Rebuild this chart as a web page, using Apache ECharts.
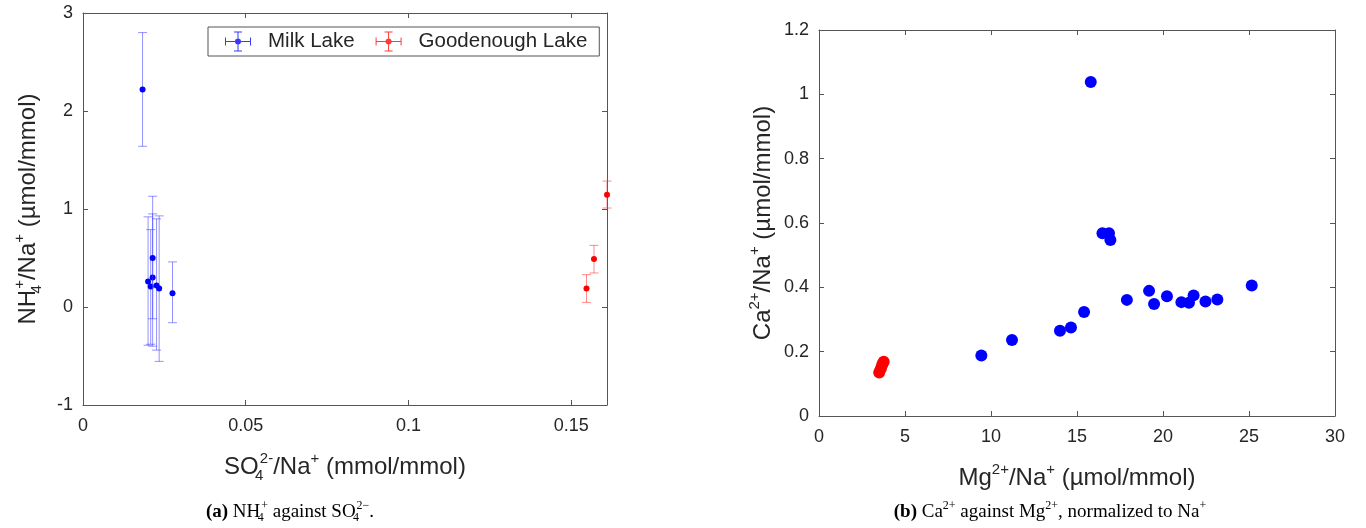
<!DOCTYPE html>
<html>
<head>
<meta charset="utf-8">
<script src="https://cdn.jsdelivr.net/npm/echarts@6/dist/echarts.min.js"></script>
<style>html,body{margin:0;padding:0;background:#fff}#c{width:1366px;height:528px}</style>
</head>
<body>
<div id="c"></div>
<script>
// ---- Panel (a): NH4+/Na+ vs SO4 2-/Na+ ----
const milkX = [0.0183, 0.0200, 0.0208, 0.0214, 0.0214, 0.0226, 0.0234, 0.0275];
const milkY = [2.22, 0.26, 0.21, 0.30, 0.50, 0.22, 0.19, 0.14];
const milkLow = [1.64, -0.39, -0.38, -0.40, -0.12, -0.44, -0.555, -0.16];
const milkHigh = [2.80, 0.92, 0.79, 0.95, 1.13, 0.90, 0.93, 0.46];

const goodX = [0.1547, 0.1570, 0.1610];
const goodY = [0.19, 0.49, 1.146];
const goodLow = [0.047, 0.347, 1.01];
const goodHigh = [0.33, 0.629, 1.285];

// ---- Panel (b): Ca2+/Na+ vs Mg2+/Na+ ----
const mgMilk = [9.44, 11.22, 14.01, 14.65, 15.41, 15.8, 16.48, 16.86, 16.94, 17.9, 19.19, 19.48, 20.23, 21.07, 21.51, 21.78, 22.47, 23.16, 25.16];
const caMilk = [0.188, 0.236, 0.265, 0.275, 0.323, 1.038, 0.568, 0.568, 0.547, 0.361, 0.389, 0.348, 0.372, 0.354, 0.352, 0.375, 0.356, 0.362, 0.406];
const mgGood = [3.50, 3.60, 3.68, 3.76];
const caGood = [0.135, 0.148, 0.160, 0.169];

const legendNames = ['Milk Lake', 'Goodenough Lake'];

const SANS = 'Liberation Sans, Arial, Helvetica, sans-serif';
const SERIF = 'Liberation Serif, Times New Roman, serif';
const TXT = '#262626';
const AX = '#555';
const TICKFS = 18;

function zip(a, b, c, d) { return a.map((v, i) => d ? [v, b[i], c[i], d[i]] : [v, b[i]]); }

function errRender(barColor, dotColor) {
  return function (params, api) {
    const x = api.value(0), y = api.value(1), lo = api.value(2), hi = api.value(3);
    const pC = api.coord([x, y]), pH = api.coord([x, hi]), pL = api.coord([x, lo]);
    const w = 4.5;
    const ls = { stroke: barColor, lineWidth: 1 };
    return {
      type: 'group',
      children: [
        { type: 'line', shape: { x1: pC[0], y1: pH[1], x2: pC[0], y2: pL[1] }, style: ls },
        { type: 'line', shape: { x1: pC[0] - w, y1: pH[1], x2: pC[0] + w, y2: pH[1] }, style: ls },
        { type: 'line', shape: { x1: pC[0] - w, y1: pL[1], x2: pC[0] + w, y2: pL[1] }, style: ls },
        { type: 'circle', shape: { cx: pC[0], cy: pC[1], r: 3 }, style: { fill: dotColor } }
      ]
    };
  };
}

const rich = {
  m: { fontSize: 24, fontFamily: SANS, color: TXT, lineHeight: 32 },
  sup: { fontSize: 15, fontFamily: SANS, color: TXT, verticalAlign: 'top', lineHeight: 16 },
  sub: { fontSize: 15, fontFamily: SANS, color: TXT, verticalAlign: 'bottom', lineHeight: 16 },
  subz: { fontSize: 15, fontFamily: SANS, color: TXT, verticalAlign: 'bottom', lineHeight: 16, width: 1 }
};
const capRich = {
  b: { fontSize: 19, fontFamily: SERIF, fontWeight: 'bold', color: '#000', lineHeight: 24 },
  m: { fontSize: 19, fontFamily: SERIF, color: '#000', lineHeight: 24 },
  sup: { fontSize: 12, fontFamily: SERIF, color: '#000', verticalAlign: 'top', lineHeight: 12 },
  subz: { fontSize: 12, fontFamily: SERIF, color: '#000', verticalAlign: 'bottom', lineHeight: 12, width: 1 }
};

const icon = 'path://M0,9.5h26v1H0z M0,6h1v8H0z M25,6h1v8H25z M12.5,0h1v20h-1z M9,0h8v1H9z M9,19h8v1H9z M10,10a3,3 0 1,1 6,0a3,3 0 1,1 -6,0z';

function axisBase(extra) {
  return Object.assign({
    type: 'value',
    axisLine: { show: true, onZero: false, lineStyle: { color: AX, width: 1 } },
    axisTick: { show: true, inside: true, length: 5, lineStyle: { color: AX } },
    splitLine: { show: false },
    axisLabel: { color: TXT, fontSize: TICKFS, fontFamily: SANS }
  }, extra);
}
function mirror(extra) {
  return axisBase(Object.assign({ axisLabel: { show: false }, name: '' }, extra));
}

const option = {
  animation: false,
  backgroundColor: '#fff',
  grid: [
    { left: 83, top: 13, right: 1366 - 607, bottom: 528 - 405, show: false },
    { left: 819, top: 30, right: 1366 - 1335, bottom: 528 - 416, show: false }
  ],
  legend: {
    data: [{ name: legendNames[0], icon: icon }, { name: legendNames[1], icon: icon }],
    left: 208, top: 27,
    itemWidth: 26, itemHeight: 20, itemGap: 21,
    padding: [4, 12, 4, 17],
    borderColor: '#555', borderWidth: 1, backgroundColor: '#fff',
    textStyle: { fontSize: 20.5, fontFamily: SANS, color: TXT, padding: [0, 0, 0, 12] }
  },
  xAxis: [
    axisBase({ gridIndex: 0, min: 0, max: 0.161, interval: 0.05,
      axisLabel: { color: TXT, fontSize: TICKFS, fontFamily: SANS, showMaxLabel: false, margin: 12 },
      name: '{m|SO}{subz|4}{sup|2-}{m|/Na}{sup|+}{m| (mmol/mmol)}', nameLocation: 'middle', nameGap: 46,
      nameTextStyle: { rich: rich } }),
    axisBase({ gridIndex: 1, min: 0, max: 30, interval: 5,
      axisLabel: { color: TXT, fontSize: TICKFS, fontFamily: SANS, margin: 12 },
      name: '{m|Mg}{sup|2+}{m|/Na}{sup|+}{m| (µmol/mmol)}', nameLocation: 'middle', nameGap: 46,
      nameTextStyle: { rich: rich } }),
    mirror({ gridIndex: 0, position: 'top', min: 0, max: 0.161, interval: 0.05 }),
    mirror({ gridIndex: 1, position: 'top', min: 0, max: 30, interval: 5 })
  ],
  yAxis: [
    axisBase({ gridIndex: 0, min: -1, max: 3, interval: 1,
      axisLabel: { color: TXT, fontSize: TICKFS, fontFamily: SANS, margin: 10 },
      name: '{m|NH}{subz|4}{sup|+}{m|/Na}{sup|+}{m| (µmol/mmol)}', nameLocation: 'middle', nameGap: 39,
      nameTextStyle: { rich: rich } }),
    axisBase({ gridIndex: 1, min: 0, max: 1.2, interval: 0.2,
      axisLabel: { color: TXT, fontSize: TICKFS, fontFamily: SANS, margin: 10 },
      name: '{m|Ca}{sup|2+}{m|/Na}{sup|+}{m| (µmol/mmol)}', nameLocation: 'middle', nameGap: 40,
      nameTextStyle: { rich: rich } }),
    mirror({ gridIndex: 0, position: 'right', min: -1, max: 3, interval: 1 }),
    mirror({ gridIndex: 1, position: 'right', min: 0, max: 1.2, interval: 0.2 })
  ],
  series: [
    { name: legendNames[0], type: 'custom', xAxisIndex: 0, yAxisIndex: 0,
      itemStyle: { color: '#3a3aff' },
      renderItem: errRender('rgba(60,60,255,0.55)', '#0000ff'),
      encode: { x: 0, y: [1, 2, 3] },
      data: zip(milkX, milkY, milkLow, milkHigh), clip: true },
    { name: legendNames[1], type: 'custom', xAxisIndex: 0, yAxisIndex: 0,
      itemStyle: { color: '#ff3a3a' },
      renderItem: errRender('rgba(255,60,60,0.6)', '#ff0000'),
      encode: { x: 0, y: [1, 2, 3] },
      data: zip(goodX, goodY, goodLow, goodHigh), clip: false },
    { name: 'MilkB', type: 'scatter', xAxisIndex: 1, yAxisIndex: 1, symbolSize: 12,
      itemStyle: { color: '#0000ff', opacity: 1 }, data: zip(mgMilk, caMilk) },
    { name: 'GoodB', type: 'scatter', xAxisIndex: 1, yAxisIndex: 1, symbolSize: 12,
      itemStyle: { color: '#ff0000', opacity: 1 }, data: zip(mgGood, caGood) }
  ],
  graphic: [
    { type: 'text', x: 290, y: 512, style: {
      text: '{b|(a)}{m| NH}{subz|4}{sup|+}{m| against SO}{subz|4}{sup|2−}{m|.}', rich: capRich, align: 'center', verticalAlign: 'middle' } },
    { type: 'text', x: 1050, y: 512, style: {
      text: '{b|(b)}{m| Ca}{sup|2+}{m| against Mg}{sup|2+}{m|, normalized to Na}{sup|+}', rich: capRich, align: 'center', verticalAlign: 'middle' } }
  ]
};

const chart = echarts.init(document.getElementById('c'), null, { renderer: 'canvas' });
chart.setOption(option);
</script>
</body>
</html>
